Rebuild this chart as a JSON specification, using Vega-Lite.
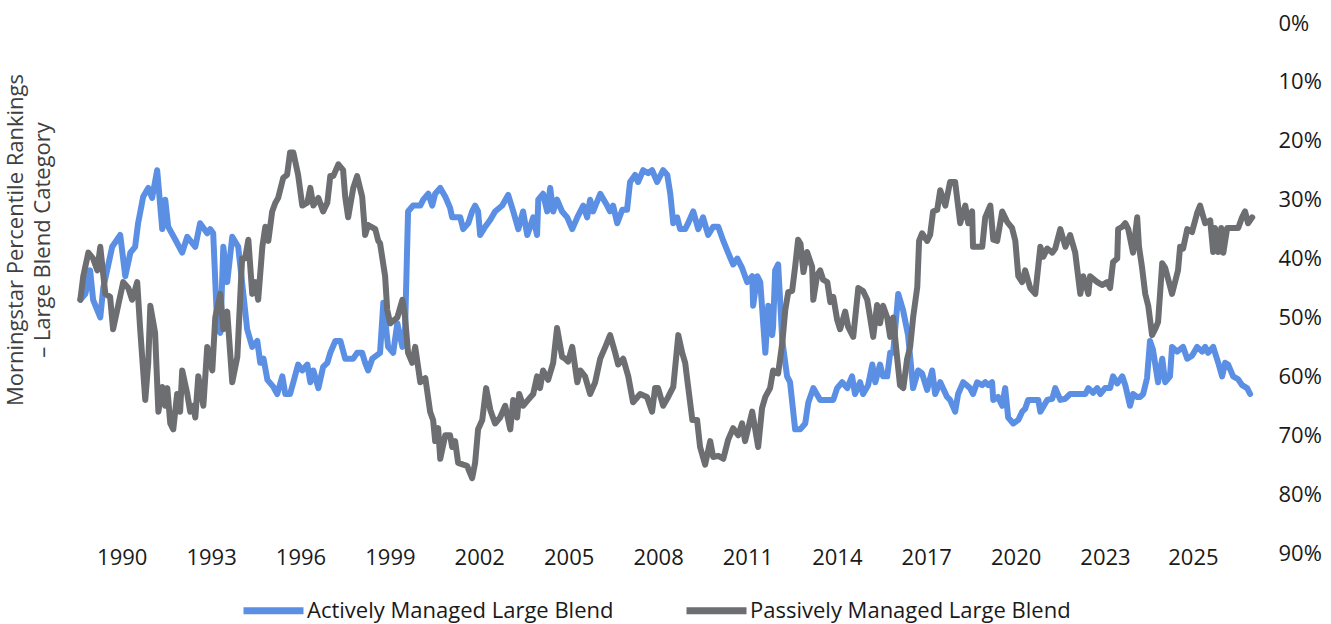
{
  "$schema": "https://vega.github.io/schema/vega-lite/v6.json",
  "autosize": {"type": "none"},
  "padding": {"left": 80, "top": 23, "right": 77, "bottom": 71},
  "width": 1174,
  "height": 530,
  "background": "white",
  "config": {"font": "Open Sans", "view": {"stroke": null}},
  "title": {
    "text": ["Morningstar Percentile Rankings", "– Large Blend Category"],
    "orient": "left",
    "anchor": "middle",
    "fontSize": 22,
    "fontWeight": "normal",
    "color": "#404040",
    "lineHeight": 27,
    "offset": 22,
    "dx": 48
  },
  "datasets": {
    "active": [
      {"year": 1988.61, "rank": 47}, {"year": 1988.78, "rank": 46}, {"year": 1988.94, "rank": 42}, {"year": 1989.04, "rank": 47},
      {"year": 1989.28, "rank": 50}, {"year": 1989.38, "rank": 45}, {"year": 1989.68, "rank": 38}, {"year": 1989.95, "rank": 36},
      {"year": 1990.12, "rank": 43}, {"year": 1990.29, "rank": 39}, {"year": 1990.45, "rank": 38}, {"year": 1990.55, "rank": 34},
      {"year": 1990.72, "rank": 29.5}, {"year": 1990.89, "rank": 28}, {"year": 1991.02, "rank": 29.7}, {"year": 1991.19, "rank": 25},
      {"year": 1991.36, "rank": 35}, {"year": 1991.46, "rank": 30}, {"year": 1991.56, "rank": 34.6}, {"year": 1991.80, "rank": 36.8},
      {"year": 1992.03, "rank": 39}, {"year": 1992.20, "rank": 36.3}, {"year": 1992.47, "rank": 38}, {"year": 1992.63, "rank": 34},
      {"year": 1992.87, "rank": 35.7}, {"year": 1992.97, "rank": 35}, {"year": 1993.07, "rank": 35.7}, {"year": 1993.21, "rank": 52},
      {"year": 1993.31, "rank": 52.6}, {"year": 1993.41, "rank": 38}, {"year": 1993.54, "rank": 44}, {"year": 1993.71, "rank": 36.3},
      {"year": 1993.91, "rank": 38}, {"year": 1994.21, "rank": 52}, {"year": 1994.38, "rank": 55}, {"year": 1994.55, "rank": 54},
      {"year": 1994.65, "rank": 57.7}, {"year": 1994.76, "rank": 57}, {"year": 1994.89, "rank": 60.6}, {"year": 1995.09, "rank": 61.8},
      {"year": 1995.22, "rank": 63}, {"year": 1995.39, "rank": 60}, {"year": 1995.49, "rank": 63}, {"year": 1995.65, "rank": 63},
      {"year": 1995.76, "rank": 61}, {"year": 1995.92, "rank": 58}, {"year": 1996.06, "rank": 59}, {"year": 1996.23, "rank": 58},
      {"year": 1996.33, "rank": 61}, {"year": 1996.43, "rank": 59}, {"year": 1996.60, "rank": 62}, {"year": 1996.76, "rank": 58.4},
      {"year": 1996.90, "rank": 57.7}, {"year": 1997.00, "rank": 56}, {"year": 1997.17, "rank": 54}, {"year": 1997.34, "rank": 54},
      {"year": 1997.50, "rank": 57}, {"year": 1997.77, "rank": 57}, {"year": 1997.90, "rank": 56}, {"year": 1998.07, "rank": 56},
      {"year": 1998.17, "rank": 57.7}, {"year": 1998.27, "rank": 59}, {"year": 1998.41, "rank": 57}, {"year": 1998.67, "rank": 56},
      {"year": 1998.78, "rank": 47.5}, {"year": 1998.94, "rank": 55}, {"year": 1999.11, "rank": 56}, {"year": 1999.25, "rank": 51},
      {"year": 1999.42, "rank": 55}, {"year": 1999.51, "rank": 52}, {"year": 1999.61, "rank": 32}, {"year": 1999.78, "rank": 31},
      {"year": 2000.02, "rank": 31}, {"year": 2000.12, "rank": 30}, {"year": 2000.29, "rank": 29}, {"year": 2000.42, "rank": 31},
      {"year": 2000.52, "rank": 29}, {"year": 2000.69, "rank": 28}, {"year": 2000.86, "rank": 29.5}, {"year": 2001.02, "rank": 31.4},
      {"year": 2001.09, "rank": 33}, {"year": 2001.36, "rank": 33}, {"year": 2001.46, "rank": 35}, {"year": 2001.63, "rank": 34},
      {"year": 2001.76, "rank": 32}, {"year": 2001.86, "rank": 31}, {"year": 2001.96, "rank": 32}, {"year": 2002.03, "rank": 36},
      {"year": 2002.20, "rank": 34.6}, {"year": 2002.37, "rank": 33.4}, {"year": 2002.53, "rank": 32}, {"year": 2002.77, "rank": 31},
      {"year": 2002.97, "rank": 29.2}, {"year": 2003.14, "rank": 32}, {"year": 2003.31, "rank": 35}, {"year": 2003.47, "rank": 32},
      {"year": 2003.61, "rank": 36}, {"year": 2003.71, "rank": 34.6}, {"year": 2003.81, "rank": 33}, {"year": 2003.94, "rank": 36},
      {"year": 2003.98, "rank": 30}, {"year": 2004.14, "rank": 29}, {"year": 2004.28, "rank": 32}, {"year": 2004.38, "rank": 28},
      {"year": 2004.48, "rank": 32}, {"year": 2004.61, "rank": 30}, {"year": 2004.78, "rank": 32}, {"year": 2004.95, "rank": 33},
      {"year": 2005.12, "rank": 35}, {"year": 2005.29, "rank": 33}, {"year": 2005.39, "rank": 32}, {"year": 2005.49, "rank": 31},
      {"year": 2005.62, "rank": 33}, {"year": 2005.72, "rank": 30}, {"year": 2005.82, "rank": 32}, {"year": 2006.06, "rank": 29},
      {"year": 2006.29, "rank": 31}, {"year": 2006.39, "rank": 32}, {"year": 2006.49, "rank": 31}, {"year": 2006.63, "rank": 34},
      {"year": 2006.80, "rank": 31.7}, {"year": 2006.96, "rank": 31.7}, {"year": 2007.06, "rank": 27}, {"year": 2007.23, "rank": 25.8},
      {"year": 2007.33, "rank": 27}, {"year": 2007.50, "rank": 25}, {"year": 2007.67, "rank": 25.5}, {"year": 2007.80, "rank": 25},
      {"year": 2007.97, "rank": 27}, {"year": 2008.17, "rank": 25}, {"year": 2008.31, "rank": 25.8}, {"year": 2008.41, "rank": 29},
      {"year": 2008.51, "rank": 34}, {"year": 2008.64, "rank": 33}, {"year": 2008.74, "rank": 35}, {"year": 2008.91, "rank": 35},
      {"year": 2009.01, "rank": 34}, {"year": 2009.18, "rank": 32}, {"year": 2009.35, "rank": 35}, {"year": 2009.51, "rank": 33},
      {"year": 2009.68, "rank": 36}, {"year": 2009.85, "rank": 34.6}, {"year": 2010.02, "rank": 34.6}, {"year": 2010.19, "rank": 37},
      {"year": 2010.35, "rank": 39}, {"year": 2010.52, "rank": 41}, {"year": 2010.66, "rank": 40}, {"year": 2010.82, "rank": 41.6},
      {"year": 2010.99, "rank": 44}, {"year": 2011.16, "rank": 43}, {"year": 2011.19, "rank": 48}, {"year": 2011.33, "rank": 43},
      {"year": 2011.43, "rank": 44}, {"year": 2011.60, "rank": 56}, {"year": 2011.70, "rank": 48}, {"year": 2011.83, "rank": 53},
      {"year": 2011.86, "rank": 51.6}, {"year": 2011.93, "rank": 42}, {"year": 2012.03, "rank": 41}, {"year": 2012.17, "rank": 54},
      {"year": 2012.33, "rank": 60}, {"year": 2012.43, "rank": 61}, {"year": 2012.60, "rank": 69}, {"year": 2012.77, "rank": 69},
      {"year": 2012.94, "rank": 68}, {"year": 2013.04, "rank": 64.5}, {"year": 2013.21, "rank": 62}, {"year": 2013.44, "rank": 64},
      {"year": 2013.88, "rank": 64}, {"year": 2014.01, "rank": 62}, {"year": 2014.18, "rank": 61}, {"year": 2014.35, "rank": 62},
      {"year": 2014.51, "rank": 60}, {"year": 2014.61, "rank": 63}, {"year": 2014.78, "rank": 61}, {"year": 2014.88, "rank": 63},
      {"year": 2015.05, "rank": 61.5}, {"year": 2015.19, "rank": 58}, {"year": 2015.29, "rank": 61}, {"year": 2015.45, "rank": 58},
      {"year": 2015.55, "rank": 60}, {"year": 2015.69, "rank": 60}, {"year": 2015.79, "rank": 56}, {"year": 2015.89, "rank": 56},
      {"year": 2016.06, "rank": 46}, {"year": 2016.22, "rank": 48.7}, {"year": 2016.39, "rank": 53}, {"year": 2016.56, "rank": 62},
      {"year": 2016.73, "rank": 59}, {"year": 2016.86, "rank": 59.5}, {"year": 2017.03, "rank": 62.3}, {"year": 2017.20, "rank": 59},
      {"year": 2017.30, "rank": 63}, {"year": 2017.47, "rank": 61}, {"year": 2017.70, "rank": 63.5}, {"year": 2017.80, "rank": 64},
      {"year": 2017.97, "rank": 66}, {"year": 2018.07, "rank": 63}, {"year": 2018.24, "rank": 61}, {"year": 2018.47, "rank": 62},
      {"year": 2018.57, "rank": 63}, {"year": 2018.71, "rank": 61}, {"year": 2018.88, "rank": 61.5}, {"year": 2018.98, "rank": 61},
      {"year": 2019.08, "rank": 61.5}, {"year": 2019.21, "rank": 61}, {"year": 2019.25, "rank": 64}, {"year": 2019.41, "rank": 63.5},
      {"year": 2019.55, "rank": 65}, {"year": 2019.65, "rank": 62}, {"year": 2019.75, "rank": 67}, {"year": 2019.92, "rank": 68},
      {"year": 2020.09, "rank": 67.4}, {"year": 2020.22, "rank": 66}, {"year": 2020.32, "rank": 65.5}, {"year": 2020.42, "rank": 64},
      {"year": 2020.76, "rank": 64}, {"year": 2020.83, "rank": 66}, {"year": 2021.06, "rank": 64}, {"year": 2021.23, "rank": 63.8},
      {"year": 2021.33, "rank": 62}, {"year": 2021.50, "rank": 64}, {"year": 2021.67, "rank": 63.8}, {"year": 2021.83, "rank": 63},
      {"year": 2022.34, "rank": 63}, {"year": 2022.44, "rank": 62}, {"year": 2022.60, "rank": 62.8}, {"year": 2022.74, "rank": 62},
      {"year": 2022.84, "rank": 63}, {"year": 2023.00, "rank": 62}, {"year": 2023.17, "rank": 62}, {"year": 2023.27, "rank": 60},
      {"year": 2023.41, "rank": 61.2}, {"year": 2023.58, "rank": 60}, {"year": 2023.68, "rank": 61.5}, {"year": 2023.84, "rank": 65},
      {"year": 2023.94, "rank": 63}, {"year": 2024.08, "rank": 63.5}, {"year": 2024.18, "rank": 63.5}, {"year": 2024.28, "rank": 63},
      {"year": 2024.41, "rank": 60.3}, {"year": 2024.51, "rank": 54}, {"year": 2024.61, "rank": 55.5}, {"year": 2024.78, "rank": 61},
      {"year": 2024.92, "rank": 57}, {"year": 2025.02, "rank": 61}, {"year": 2025.18, "rank": 60}, {"year": 2025.25, "rank": 55},
      {"year": 2025.42, "rank": 55.8}, {"year": 2025.62, "rank": 55}, {"year": 2025.76, "rank": 57}, {"year": 2025.92, "rank": 56.5},
      {"year": 2026.09, "rank": 55}, {"year": 2026.26, "rank": 55.8}, {"year": 2026.36, "rank": 55}, {"year": 2026.46, "rank": 56},
      {"year": 2026.63, "rank": 55}, {"year": 2026.80, "rank": 57.7}, {"year": 2026.93, "rank": 60}, {"year": 2027.03, "rank": 57.7},
      {"year": 2027.13, "rank": 58}, {"year": 2027.30, "rank": 60}, {"year": 2027.47, "rank": 60.5}, {"year": 2027.60, "rank": 61.5},
      {"year": 2027.77, "rank": 62}, {"year": 2027.87, "rank": 63}
    ],
    "passive": [
      {"year": 1988.61, "rank": 47}, {"year": 1988.71, "rank": 43}, {"year": 1988.88, "rank": 39}, {"year": 1989.04, "rank": 40},
      {"year": 1989.18, "rank": 42}, {"year": 1989.28, "rank": 38}, {"year": 1989.45, "rank": 46}, {"year": 1989.61, "rank": 46.5},
      {"year": 1989.71, "rank": 52}, {"year": 1989.88, "rank": 48}, {"year": 1990.05, "rank": 44}, {"year": 1990.22, "rank": 45},
      {"year": 1990.35, "rank": 47}, {"year": 1990.52, "rank": 44}, {"year": 1990.62, "rank": 52}, {"year": 1990.79, "rank": 64},
      {"year": 1990.89, "rank": 57.7}, {"year": 1990.96, "rank": 48}, {"year": 1991.12, "rank": 52.6}, {"year": 1991.23, "rank": 66},
      {"year": 1991.36, "rank": 61.8}, {"year": 1991.46, "rank": 65}, {"year": 1991.53, "rank": 62}, {"year": 1991.63, "rank": 68},
      {"year": 1991.73, "rank": 69}, {"year": 1991.86, "rank": 63}, {"year": 1991.96, "rank": 66}, {"year": 1992.03, "rank": 59},
      {"year": 1992.20, "rank": 63}, {"year": 1992.30, "rank": 66}, {"year": 1992.40, "rank": 65}, {"year": 1992.47, "rank": 67},
      {"year": 1992.57, "rank": 60}, {"year": 1992.74, "rank": 65}, {"year": 1992.87, "rank": 55}, {"year": 1993.04, "rank": 59},
      {"year": 1993.14, "rank": 50}, {"year": 1993.31, "rank": 46}, {"year": 1993.41, "rank": 52}, {"year": 1993.54, "rank": 49},
      {"year": 1993.71, "rank": 61}, {"year": 1993.88, "rank": 56.7}, {"year": 1994.04, "rank": 40}, {"year": 1994.14, "rank": 40},
      {"year": 1994.25, "rank": 36.8}, {"year": 1994.38, "rank": 46}, {"year": 1994.48, "rank": 44}, {"year": 1994.58, "rank": 47},
      {"year": 1994.72, "rank": 38}, {"year": 1994.82, "rank": 34.6}, {"year": 1994.92, "rank": 37}, {"year": 1995.05, "rank": 32},
      {"year": 1995.15, "rank": 30.6}, {"year": 1995.25, "rank": 29.7}, {"year": 1995.42, "rank": 26.3}, {"year": 1995.55, "rank": 25.8},
      {"year": 1995.65, "rank": 22}, {"year": 1995.76, "rank": 22}, {"year": 1995.92, "rank": 25.8}, {"year": 1996.06, "rank": 31},
      {"year": 1996.23, "rank": 30.5}, {"year": 1996.33, "rank": 28}, {"year": 1996.43, "rank": 31}, {"year": 1996.60, "rank": 29.7},
      {"year": 1996.76, "rank": 32}, {"year": 1996.90, "rank": 30.5}, {"year": 1997.00, "rank": 26}, {"year": 1997.10, "rank": 26},
      {"year": 1997.27, "rank": 24}, {"year": 1997.43, "rank": 25}, {"year": 1997.50, "rank": 29.5}, {"year": 1997.60, "rank": 33},
      {"year": 1997.77, "rank": 28}, {"year": 1997.90, "rank": 26}, {"year": 1998.07, "rank": 29.5}, {"year": 1998.17, "rank": 36},
      {"year": 1998.27, "rank": 34.3}, {"year": 1998.51, "rank": 35}, {"year": 1998.61, "rank": 37}, {"year": 1998.67, "rank": 37.4},
      {"year": 1998.84, "rank": 43}, {"year": 1998.91, "rank": 48.7}, {"year": 1999.01, "rank": 51}, {"year": 1999.25, "rank": 50},
      {"year": 1999.42, "rank": 47}, {"year": 1999.51, "rank": 50}, {"year": 1999.61, "rank": 56}, {"year": 1999.75, "rank": 57.7},
      {"year": 1999.85, "rank": 55}, {"year": 2000.02, "rank": 61}, {"year": 2000.19, "rank": 60.3}, {"year": 2000.35, "rank": 66},
      {"year": 2000.45, "rank": 67.4}, {"year": 2000.52, "rank": 71}, {"year": 2000.62, "rank": 68.8}, {"year": 2000.69, "rank": 74},
      {"year": 2000.86, "rank": 70}, {"year": 2001.02, "rank": 70}, {"year": 2001.09, "rank": 72}, {"year": 2001.19, "rank": 71},
      {"year": 2001.29, "rank": 74.7}, {"year": 2001.46, "rank": 75}, {"year": 2001.59, "rank": 75.2}, {"year": 2001.76, "rank": 77.3},
      {"year": 2001.86, "rank": 74.7}, {"year": 2001.96, "rank": 69}, {"year": 2002.10, "rank": 67.4}, {"year": 2002.23, "rank": 62},
      {"year": 2002.37, "rank": 65.7}, {"year": 2002.53, "rank": 68}, {"year": 2002.70, "rank": 67}, {"year": 2002.87, "rank": 65},
      {"year": 2003.04, "rank": 69}, {"year": 2003.14, "rank": 64}, {"year": 2003.27, "rank": 67}, {"year": 2003.34, "rank": 63},
      {"year": 2003.47, "rank": 65}, {"year": 2003.64, "rank": 64}, {"year": 2003.81, "rank": 63}, {"year": 2003.94, "rank": 60},
      {"year": 2004.04, "rank": 62}, {"year": 2004.14, "rank": 59}, {"year": 2004.31, "rank": 60.6}, {"year": 2004.48, "rank": 57.7},
      {"year": 2004.61, "rank": 51.8}, {"year": 2004.78, "rank": 56.7}, {"year": 2004.88, "rank": 57}, {"year": 2004.98, "rank": 57.5},
      {"year": 2005.12, "rank": 55}, {"year": 2005.29, "rank": 61}, {"year": 2005.39, "rank": 59}, {"year": 2005.55, "rank": 60},
      {"year": 2005.72, "rank": 63}, {"year": 2005.89, "rank": 61}, {"year": 2006.06, "rank": 57}, {"year": 2006.23, "rank": 55},
      {"year": 2006.39, "rank": 53}, {"year": 2006.56, "rank": 56}, {"year": 2006.66, "rank": 58}, {"year": 2006.83, "rank": 57},
      {"year": 2007.00, "rank": 60}, {"year": 2007.16, "rank": 64.4}, {"year": 2007.40, "rank": 63}, {"year": 2007.63, "rank": 63.5},
      {"year": 2007.80, "rank": 66}, {"year": 2007.90, "rank": 62}, {"year": 2008.00, "rank": 62}, {"year": 2008.17, "rank": 65},
      {"year": 2008.34, "rank": 63.5}, {"year": 2008.51, "rank": 61.8}, {"year": 2008.68, "rank": 53}, {"year": 2008.81, "rank": 56},
      {"year": 2008.91, "rank": 57.7}, {"year": 2009.01, "rank": 61.8}, {"year": 2009.15, "rank": 67.4}, {"year": 2009.31, "rank": 67.4},
      {"year": 2009.41, "rank": 72}, {"year": 2009.58, "rank": 75}, {"year": 2009.75, "rank": 71}, {"year": 2009.85, "rank": 73.7},
      {"year": 2010.02, "rank": 73.5}, {"year": 2010.19, "rank": 74}, {"year": 2010.35, "rank": 70.8}, {"year": 2010.52, "rank": 68.8},
      {"year": 2010.69, "rank": 70}, {"year": 2010.82, "rank": 68}, {"year": 2010.92, "rank": 71}, {"year": 2011.16, "rank": 66},
      {"year": 2011.26, "rank": 69}, {"year": 2011.36, "rank": 72}, {"year": 2011.49, "rank": 65.4}, {"year": 2011.60, "rank": 63.5},
      {"year": 2011.76, "rank": 62}, {"year": 2011.86, "rank": 59}, {"year": 2012.03, "rank": 59.5}, {"year": 2012.17, "rank": 54.3},
      {"year": 2012.27, "rank": 48.7}, {"year": 2012.37, "rank": 45.7}, {"year": 2012.50, "rank": 45.5}, {"year": 2012.60, "rank": 41.4},
      {"year": 2012.70, "rank": 36.8}, {"year": 2012.78, "rank": 37.5}, {"year": 2012.88, "rank": 42.3}, {"year": 2013.00, "rank": 38.9},
      {"year": 2013.17, "rank": 41.4}, {"year": 2013.21, "rank": 47}, {"year": 2013.34, "rank": 42.8}, {"year": 2013.44, "rank": 42},
      {"year": 2013.54, "rank": 43.6}, {"year": 2013.68, "rank": 44}, {"year": 2013.78, "rank": 47.4}, {"year": 2013.88, "rank": 46.5},
      {"year": 2014.01, "rank": 50.4}, {"year": 2014.11, "rank": 52}, {"year": 2014.28, "rank": 49}, {"year": 2014.38, "rank": 51.6},
      {"year": 2014.55, "rank": 53.3}, {"year": 2014.72, "rank": 45}, {"year": 2014.88, "rank": 45.5}, {"year": 2015.02, "rank": 47},
      {"year": 2015.22, "rank": 53.3}, {"year": 2015.35, "rank": 47.9}, {"year": 2015.45, "rank": 51}, {"year": 2015.55, "rank": 48},
      {"year": 2015.69, "rank": 50}, {"year": 2015.79, "rank": 53.3}, {"year": 2015.89, "rank": 50}, {"year": 2016.02, "rank": 56.7},
      {"year": 2016.12, "rank": 61.5}, {"year": 2016.23, "rank": 62}, {"year": 2016.36, "rank": 57}, {"year": 2016.46, "rank": 55},
      {"year": 2016.56, "rank": 50}, {"year": 2016.70, "rank": 44.8}, {"year": 2016.76, "rank": 37}, {"year": 2016.86, "rank": 35.7},
      {"year": 2017.03, "rank": 37}, {"year": 2017.13, "rank": 36}, {"year": 2017.23, "rank": 32}, {"year": 2017.37, "rank": 31.7},
      {"year": 2017.47, "rank": 28.4}, {"year": 2017.64, "rank": 31}, {"year": 2017.80, "rank": 27}, {"year": 2017.97, "rank": 27},
      {"year": 2018.14, "rank": 34}, {"year": 2018.31, "rank": 31}, {"year": 2018.41, "rank": 34}, {"year": 2018.54, "rank": 32},
      {"year": 2018.57, "rank": 38}, {"year": 2018.88, "rank": 38}, {"year": 2018.98, "rank": 33}, {"year": 2019.15, "rank": 31},
      {"year": 2019.25, "rank": 36.8}, {"year": 2019.38, "rank": 37}, {"year": 2019.55, "rank": 32}, {"year": 2019.72, "rank": 33.8},
      {"year": 2019.88, "rank": 34.8}, {"year": 2019.99, "rank": 37}, {"year": 2020.09, "rank": 43}, {"year": 2020.22, "rank": 44},
      {"year": 2020.32, "rank": 42}, {"year": 2020.49, "rank": 45}, {"year": 2020.66, "rank": 46}, {"year": 2020.83, "rank": 38},
      {"year": 2020.93, "rank": 39.7}, {"year": 2021.06, "rank": 38.3}, {"year": 2021.23, "rank": 39}, {"year": 2021.33, "rank": 38.3},
      {"year": 2021.50, "rank": 35}, {"year": 2021.67, "rank": 38}, {"year": 2021.83, "rank": 36}, {"year": 2022.00, "rank": 39},
      {"year": 2022.17, "rank": 46}, {"year": 2022.27, "rank": 43}, {"year": 2022.44, "rank": 46}, {"year": 2022.50, "rank": 43},
      {"year": 2022.74, "rank": 44}, {"year": 2022.90, "rank": 44.5}, {"year": 2023.07, "rank": 44}, {"year": 2023.17, "rank": 45},
      {"year": 2023.27, "rank": 40.6}, {"year": 2023.41, "rank": 40}, {"year": 2023.44, "rank": 35}, {"year": 2023.58, "rank": 34.6},
      {"year": 2023.68, "rank": 34}, {"year": 2023.78, "rank": 35}, {"year": 2023.94, "rank": 39}, {"year": 2024.08, "rank": 33},
      {"year": 2024.14, "rank": 38}, {"year": 2024.24, "rank": 41.4}, {"year": 2024.35, "rank": 46}, {"year": 2024.45, "rank": 48},
      {"year": 2024.58, "rank": 53}, {"year": 2024.68, "rank": 52}, {"year": 2024.78, "rank": 50.8}, {"year": 2024.92, "rank": 40.8},
      {"year": 2025.02, "rank": 41.6}, {"year": 2025.25, "rank": 46}, {"year": 2025.35, "rank": 44}, {"year": 2025.45, "rank": 42},
      {"year": 2025.52, "rank": 38}, {"year": 2025.62, "rank": 38.3}, {"year": 2025.76, "rank": 35}, {"year": 2025.92, "rank": 35.5},
      {"year": 2026.09, "rank": 32.3}, {"year": 2026.19, "rank": 31}, {"year": 2026.36, "rank": 34}, {"year": 2026.53, "rank": 33.5},
      {"year": 2026.63, "rank": 38.9}, {"year": 2026.69, "rank": 34.8}, {"year": 2026.80, "rank": 38.9}, {"year": 2026.90, "rank": 34.8},
      {"year": 2026.97, "rank": 39}, {"year": 2027.10, "rank": 34.8}, {"year": 2027.30, "rank": 34.8}, {"year": 2027.47, "rank": 34.8},
      {"year": 2027.60, "rank": 33}, {"year": 2027.70, "rank": 32}, {"year": 2027.80, "rank": 34}, {"year": 2027.94, "rank": 33}
    ]
  },
  "encoding": {
    "x": {
      "field": "year",
      "type": "quantitative",
      "scale": {"domain": [1988.6, 2028.0], "nice": false, "zero": false},
      "axis": {
        "values": [1990, 1993, 1996, 1999, 2002, 2005, 2008, 2011, 2014, 2017, 2020, 2023, 2025.95],
        "labelExpr": "'' + floor(datum.value)",
        "title": null,
        "grid": false,
        "ticks": false,
        "domain": false,
        "labelFontSize": 22,
        "labelColor": "#1a1a1a",
        "labelFlush": false,
        "labelOverlap": false,
        "labelBaseline": "middle",
        "labelPadding": 4
      }
    },
    "y": {
      "field": "rank",
      "type": "quantitative",
      "scale": {"domain": [0, 90], "reverse": true, "nice": false, "zero": false},
      "axis": {
        "orient": "right",
        "values": [0, 10, 20, 30, 40, 50, 60, 70, 80, 90],
        "labelExpr": "datum.value + '%'",
        "title": null,
        "grid": false,
        "ticks": false,
        "domain": false,
        "labelFontSize": 22,
        "labelColor": "#1a1a1a",
        "labelAlign": "left",
        "labelBaseline": "middle",
        "labelPadding": 24,
        "labelFlush": false,
        "labelOverlap": false
      }
    },
    "color": {
      "type": "nominal",
      "scale": {
        "domain": ["Actively Managed Large Blend", "Passively Managed Large Blend"],
        "range": ["#5B8FE4", "#6D6E71"]
      },
      "legend": {
        "orient": "none",
        "legendX": 160,
        "legendY": 554,
        "padding": 0,
        "direction": "horizontal",
        "title": null,
        "symbolType": "stroke",
        "symbolSize": 3600,
        "symbolStrokeWidth": 7,
        "labelFontSize": 22,
        "labelColor": "#1a1a1a",
        "labelOffset": 0,
        "columnPadding": 58,
        "labelLimit": 600
      }
    }
  },
  "layer": [
    {
      "data": {"name": "active"},
      "mark": {"type": "line", "strokeWidth": 6, "strokeJoin": "round", "strokeCap": "round"},
      "encoding": {"color": {"datum": "Actively Managed Large Blend"}}
    },
    {
      "data": {"name": "passive"},
      "mark": {"type": "line", "strokeWidth": 6, "strokeJoin": "round", "strokeCap": "round"},
      "encoding": {"color": {"datum": "Passively Managed Large Blend"}}
    }
  ]
}
